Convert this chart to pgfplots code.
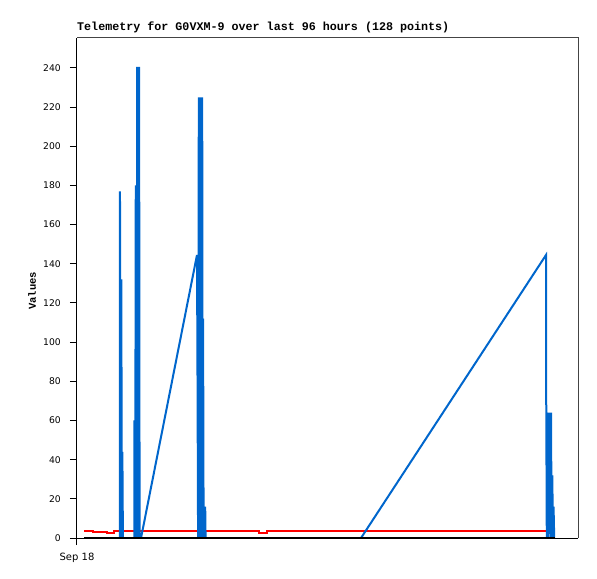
\documentclass[border=0pt]{standalone}
\usepackage{pgfplots}
\pgfplotsset{compat=1.18}
\usepackage{fontspec}
\setmainfont{DejaVu Sans}
\newfontfamily\monob{Liberation Mono}[BoldFont={Liberation Mono Bold}]
\definecolor{telblue}{HTML}{0066CC}
\definecolor{framegray}{HTML}{444444}

\begin{document}
\begin{tikzpicture}
\useasboundingbox (-77bp,-41bp) rectangle (520bp,538bp);
\begin{axis}[
    at={(0,0)}, anchor=south west,
    scale only axis, width=501bp, height=500bp,
    xmin=0, xmax=102.12,
    ymin=0, ymax=255.3,
    axis lines=left,
    axis line style={-, line width=1bp, black},
    xtick={0}, xticklabels={Sep 18},
    ytick={0,20,...,240},
    tick align=outside,
    major tick length=7bp,
    tick style={black, line width=1bp},
    /pgf/number format/assume math mode=true,
    tick label style={font=\fontsize{9.2bp}{10bp}\selectfont, inner sep=0pt},
    yticklabel style={anchor=east, xshift=-9bp},
    xticklabel style={anchor=north, yshift=-8bp, font=\fontsize{10bp}{11bp}\selectfont},
    title={Telemetry for G0VXM-9 over last 96 hours (128 points)},
    title style={at={(0,1)}, anchor=base west, yshift=2bp, inner sep=0pt,
        font=\monob\bfseries\fontsize{11.7bp}{14bp}\selectfont},
    ylabel={Values},
    ylabel style={at={(axis description cs:-0.0898,0.494)}, anchor=center, inner sep=0pt,
        font=\monob\bfseries\fontsize{10.5bp}{12bp}\selectfont},
    after end axis/.code={
        \draw[framegray, line width=1bp] (rel axis cs:0,1) -- (rel axis cs:1,1) -- (rel axis cs:1,0);
    },
]

% red series
\addplot[color=red, line width=2.2bp, line join=miter]
    coordinates {
    (1.43,3.7)(3.26,3.7)(3.26,3.2)(6.05,3.2)(6.05,2.6)(7.54,2.6)(7.54,3.7)
    (37.10,3.7)(37.10,2.7)(38.73,2.7)(38.73,3.7)(97.43,3.7)
    };

% blue series
\addplot[color=telblue, line width=2bp]
    coordinates {
    (1.43,0)(8.72,0)(8.76,177)(8.93,0)(9.03,132)(9.15,0)(9.25,44)(9.36,0)
    (11.68,0)(11.72,60)(11.86,0)(11.98,180)(12.13,0)(12.27,240.5)(12.37,0)
    (12.47,240.5)(12.58,0)(12.66,240.5)(12.76,0)(13.05,0)
    (24.46,144.5)(24.58,72)(24.68,0)(24.83,225)(24.95,0)(25.07,225)(25.19,0)
    (25.32,225)(25.44,0)(25.52,225)(25.62,0)(25.70,112)(25.81,0)(25.93,16)
    (26.05,0)(26.13,16)(26.21,0)
    (57.89,0)(95.60,144.5)(95.64,72.5)(95.76,0)(95.88,64)(96.00,0)(96.13,64)
    (96.25,16)(96.37,64)(96.49,0)(96.62,64)(96.74,0)(96.88,32)(97.02,0)
    (97.14,16)(97.27,0)
    };

% black series
\addplot[color=black, line width=2bp]
    coordinates {
    (1.43,0)(97.43,0)
    };

\end{axis}
\end{tikzpicture}
\end{document}
